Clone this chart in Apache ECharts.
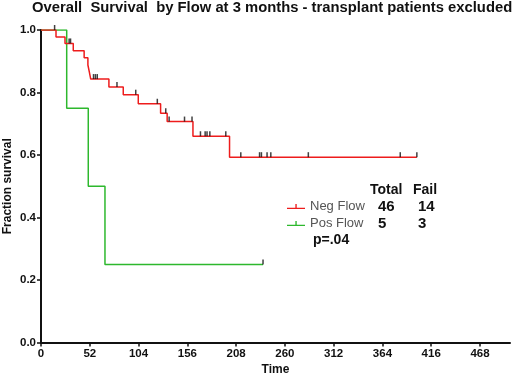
<!DOCTYPE html>
<html>
<head>
<meta charset="utf-8">
<script src="https://cdn.jsdelivr.net/npm/echarts@6/dist/echarts.min.js"></script>
<style>
html, body { margin: 0; padding: 0; background: #fff; }
#chart { width: 520px; height: 377px; }
</style>
</head>
<body>
<div id="chart"></div>
<script>
// Kaplan-Meier steps
const negTime = [0, 16, 25.6, 34.4, 46, 50, 51.5, 53, 72.4, 87.7, 103.7, 127.5, 134.5, 162, 201, 400.7];
const negSurv = [1, 0.978, 0.957, 0.934, 0.911, 0.888, 0.866, 0.843, 0.818, 0.793, 0.764, 0.734, 0.707, 0.66, 0.593, 0.593];
const negCensor = [30, 31.5, 56, 58, 60, 81, 101, 124, 133, 136.6, 153, 161, 170, 175, 177, 180, 197, 213, 233, 235, 241, 245, 285, 383, 400.7];

const posTime = [0, 27.4, 50.4, 68.2, 236.7];
const posSurv = [1, 0.75, 0.5, 0.25, 0.25];
const posCensor = [14.5, 236.7];

const xTicks = [0, 52, 104, 156, 208, 260, 312, 364, 416, 468];

const FONT = '"Liberation Sans", Arial, sans-serif';
const RED = '#ee1c1c';
const GREEN = '#2db82d';

function levelAt(times, surv, t) {
    let s = surv[0];
    for (let i = 0; i < times.length; i++) {
        if (times[i] <= t) s = surv[i];
    }
    return s;
}

const chart = echarts.init(document.getElementById('chart'));

const censorStyle = {
    type: 'scatter',
    symbol: 'rect',
    symbolSize: [1.5, 5],
    symbolOffset: [0, -2.5],
    itemStyle: { color: '#111' },
    silent: true,
    z: 5
};

const option = {
    animation: false,
    title: {
        text: 'Overall  Survival  by Flow at 3 months - transplant patients excluded',
        left: 32,
        top: 0,
        padding: 0,
        textStyle: { fontFamily: FONT, fontWeight: 'bold', fontSize: 14.8, color: '#111' }
    },
    grid: { left: 41, right: 10, top: 30, bottom: 34.5, outerBoundsMode: 'none' },
    legend: {
        data: [
            { name: 'Neg Flow', icon: 'path://M0,6h20v1.5h-20z M9.3,2h1.5v5h-1.5z' },
            { name: 'Pos Flow', icon: 'path://M0,6h20v1.5h-20z M9.3,2h1.5v5h-1.5z' }
        ],
        orient: 'vertical',
        left: 287,
        top: 200,
        padding: 0,
        itemWidth: 18,
        itemHeight: 7,
        itemGap: 4,
        textStyle: { fontFamily: FONT, fontSize: 13, color: '#555', lineHeight: 13 }
    },
    graphic: [
        { type: 'text', left: 370, top: 183, style: { text: 'Total', font: 'bold 14px ' + FONT, fill: '#111' } },
        { type: 'text', left: 413, top: 183, style: { text: 'Fail', font: 'bold 14px ' + FONT, fill: '#111' } },
        { type: 'text', left: 378, top: 199, style: { text: '46', font: 'bold 15px ' + FONT, fill: '#111' } },
        { type: 'text', left: 418, top: 199, style: { text: '14', font: 'bold 15px ' + FONT, fill: '#111' } },
        { type: 'text', left: 378, top: 216, style: { text: '5', font: 'bold 15px ' + FONT, fill: '#111' } },
        { type: 'text', left: 418, top: 216, style: { text: '3', font: 'bold 15px ' + FONT, fill: '#111' } },
        { type: 'text', left: 313, top: 233, style: { text: 'p=.04', font: 'bold 14px ' + FONT, fill: '#111' } }
    ],
    xAxis: {
        type: 'value',
        min: 0,
        max: 500,
        interval: 52,
        name: 'Time',
        nameLocation: 'middle',
        nameGap: 21,
        nameMoveOverlap: false,
        nameTextStyle: { fontFamily: FONT, fontWeight: 'bold', fontSize: 12, color: '#111' },
        axisLine: { show: true, lineStyle: { color: '#111', width: 2 } },
        axisTick: { show: true, length: 4, lineStyle: { color: '#111', width: 1.5 }, customValues: xTicks },
        axisLabel: { fontFamily: FONT, fontWeight: 'bold', fontSize: 11.5, color: '#111', margin: 5, customValues: xTicks },
        splitLine: { show: false }
    },
    yAxis: {
        type: 'value',
        min: 0,
        max: 1,
        interval: 0.2,
        name: 'Fraction survival',
        nameLocation: 'middle',
        nameGap: 27,
        nameMoveOverlap: false,
        nameTextStyle: { fontFamily: FONT, fontWeight: 'bold', fontSize: 12, color: '#111' },
        axisLine: { show: true, lineStyle: { color: '#111', width: 2 } },
        axisTick: { show: true, length: 4, lineStyle: { color: '#111', width: 1.5 } },
        axisLabel: {
            fontFamily: FONT, fontWeight: 'bold', fontSize: 11.5, color: '#111', margin: 5,
            formatter: v => v.toFixed(1)
        },
        splitLine: { show: false }
    },
    series: [
        {
            name: 'Neg Flow',
            type: 'line',
            step: 'end',
            showSymbol: false,
            color: RED,
            lineStyle: { color: RED, width: 1.5 },
            data: negTime.map((t, i) => [t, negSurv[i]]),
            z: 3
        },
        {
            name: 'Pos Flow',
            type: 'line',
            step: 'end',
            showSymbol: false,
            color: GREEN,
            lineStyle: { color: GREEN, width: 1.5 },
            data: posTime.map((t, i) => [t, posSurv[i]]),
            z: 2
        },
        Object.assign({ name: 'negCensor', data: negCensor.map(t => [t, levelAt(negTime, negSurv, t)]) }, censorStyle),
        Object.assign({ name: 'posCensor', data: posCensor.map(t => [t, levelAt(posTime, posSurv, t)]) }, censorStyle)
    ]
};

chart.setOption(option);
</script>
</body>
</html>
